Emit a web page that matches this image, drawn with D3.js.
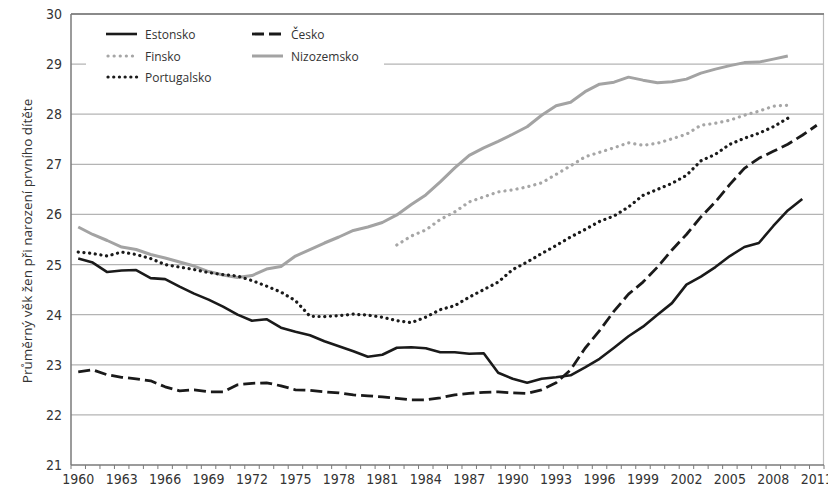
<!DOCTYPE html>
<html>
<head>
<meta charset="utf-8">
<script src="https://cdn.jsdelivr.net/npm/d3@7"></script>
<style>
  html, body { margin: 0; padding: 0; background: #fff; }
  svg { display: block; }
  .tick-x { font-family: "Liberation Sans Narrow", "DejaVu Sans Condensed", sans-serif; font-size: 14px; fill: #333; }
  .tick-y { font-family: "Liberation Sans Narrow", "DejaVu Sans Condensed", sans-serif; font-size: 14px; fill: #333; }
  .legend text { font-family: "Open Sans", "Noto Sans", sans-serif; font-size: 12px; fill: #333; }
  .ytitle { font-family: "Open Sans", "Noto Sans", sans-serif; font-size: 13.5px; fill: #333; }
</style>
</head>
<body>
<svg id="chart" width="828" height="487"></svg>
<script>
// ---- data ----
const years = [1960,1961,1962,1963,1964,1965,1966,1967,1968,1969,1970,1971,1972,1973,1974,1975,1976,1977,1978,1979,
  1980,1981,1982,1983,1984,1985,1986,1987,1988,1989,1990,1991,1992,1993,1994,1995,1996,1997,1998,1999,
  2000,2001,2002,2003,2004,2005,2006,2007,2008,2009,2010,2011];
const tickYears = [1960,1963,1966,1969,1972,1975,1978,1981,1984,1987,1990,1993,1996,1999,2002,2005,2008,2011];
const yTicks = [21,22,23,24,25,26,27,28,29,30];

const estonskoStart = 1960;
const estonsko = [25.12,25.04,24.85,24.88,24.89,24.73,24.71,24.56,24.42,24.30,24.16,24.00,23.88,23.91,23.74,23.66,23.59,23.47,23.37,23.27,
  23.16,23.20,23.34,23.35,23.33,23.25,23.25,23.22,23.23,22.84,22.72,22.64,22.72,22.75,22.79,22.95,23.12,23.34,23.57,23.76,
  24.00,24.23,24.60,24.76,24.95,25.17,25.35,25.43,25.77,26.08,26.31];

const ceskoStart = 1960;
const cesko = [22.86,22.90,22.80,22.75,22.72,22.68,22.56,22.48,22.50,22.46,22.46,22.60,22.63,22.64,22.58,22.50,22.49,22.46,22.44,22.40,
  22.38,22.36,22.33,22.30,22.30,22.34,22.40,22.43,22.45,22.46,22.44,22.43,22.50,22.64,22.90,23.33,23.68,24.07,24.41,24.65,
  24.95,25.29,25.60,25.95,26.25,26.60,26.92,27.12,27.26,27.40,27.58,27.78];

const finskoStart = 1982;
const finsko = [25.39,25.57,25.69,25.90,26.05,26.25,26.35,26.45,26.49,26.55,26.63,26.80,26.97,27.15,27.24,27.33,27.43,27.38,
  27.42,27.51,27.60,27.78,27.82,27.88,27.98,28.06,28.16,28.18];

const portugalskoStart = 1960;
const portugalsko = [25.25,25.22,25.17,25.25,25.20,25.12,25.00,24.95,24.90,24.84,24.80,24.77,24.68,24.57,24.45,24.28,23.97,23.96,23.98,24.01,
  23.99,23.95,23.88,23.84,23.95,24.10,24.18,24.35,24.50,24.65,24.90,25.05,25.22,25.38,25.55,25.70,25.86,25.97,26.15,26.38,
  26.50,26.62,26.78,27.07,27.20,27.40,27.52,27.62,27.75,27.92];

const nizozemskoStart = 1960;
const nizozemsko = [25.75,25.60,25.48,25.35,25.30,25.20,25.13,25.05,24.97,24.86,24.79,24.74,24.78,24.91,24.96,25.17,25.30,25.43,25.55,25.68,
  25.75,25.84,25.99,26.20,26.39,26.65,26.93,27.18,27.33,27.46,27.60,27.75,27.98,28.17,28.24,28.45,28.60,28.64,28.74,28.68,
  28.63,28.65,28.70,28.82,28.90,28.97,29.03,29.04,29.10,29.16];

const seriesNames = ["Estonsko", "Česko", "Finsko", "Nizozemsko", "Portugalsko"];
const yTitle = "Průměrný věk žen při narození prvního dítěte";

// ---- chart ----
const W = 828, H = 487;
const margin = {left: 71, right: 4, top: 14, bottom: 22};
const svg = d3.select("#chart");

const x = d3.scaleBand().domain(years).range([margin.left, W - margin.right]).padding(0);
const y = d3.scaleLinear().domain([21, 30]).range([H - margin.bottom, margin.top]);
const cx = yr => x(yr) + x.bandwidth() / 2;

// gridlines
svg.append("g").selectAll("line").data(yTicks.filter(v => v > 21 && v < 30)).join("line")
  .attr("x1", margin.left).attr("x2", W - margin.right)
  .attr("y1", d => y(d)).attr("y2", d => y(d))
  .attr("stroke", "#b4b4b4").attr("stroke-width", 1.2);

// right border
svg.append("line").attr("x1", W - margin.right - 0.5).attr("x2", W - margin.right - 0.5)
  .attr("y1", y(30)).attr("y2", y(21)).attr("stroke", "#bdbdbd").attr("stroke-width", 1.2);
// top border
svg.append("line").attr("x1", margin.left).attr("x2", W - margin.right)
  .attr("y1", y(30)).attr("y2", y(30)).attr("stroke", "#8a8a8a").attr("stroke-width", 2);

// legend background
const legend = svg.append("g").attr("class", "legend");
legend.append("rect").attr("x", 86).attr("y", 20).attr("width", 298).attr("height", 72).attr("fill", "#fff");

// series styles
const styles = {
  "Estonsko":   {color: "#1a1a1a", width: 2.6, dash: null, cap: "butt"},
  "Česko":      {color: "#1a1a1a", width: 2.8, dash: "12,5", cap: "butt"},
  "Finsko":     {color: "#a6a6a6", width: 3.2, dash: "0.1,6", cap: "round"},
  "Nizozemsko": {color: "#a3a3a3", width: 3.0, dash: null, cap: "butt"},
  "Portugalsko":{color: "#1a1a1a", width: 3.2, dash: "0.1,5.6", cap: "round"}
};

const series = [
  {name: "Nizozemsko", start: nizozemskoStart, values: nizozemsko},
  {name: "Finsko", start: finskoStart, values: finsko},
  {name: "Česko", start: ceskoStart, values: cesko},
  {name: "Portugalsko", start: portugalskoStart, values: portugalsko},
  {name: "Estonsko", start: estonskoStart, values: estonsko}
];

const line = d3.line().x(d => cx(d.year)).y(d => y(d.v));

series.forEach(s => {
  const pts = s.values.map((v, i) => ({year: s.start + i, v}));
  const st = styles[s.name];
  svg.append("path").datum(pts)
    .attr("d", line)
    .attr("fill", "none")
    .attr("stroke", st.color)
    .attr("stroke-width", st.width)
    .attr("stroke-linejoin", "round")
    .attr("stroke-linecap", st.cap)
    .attr("stroke-dasharray", st.dash);
});

// axes lines
svg.append("line").attr("x1", margin.left).attr("x2", margin.left)
  .attr("y1", y(30)).attr("y2", y(21)).attr("stroke", "#7a7a7a").attr("stroke-width", 1.5);
svg.append("line").attr("x1", margin.left).attr("x2", W - margin.right)
  .attr("y1", y(21)).attr("y2", y(21)).attr("stroke", "#7a7a7a").attr("stroke-width", 1.5);

// x tick marks at band boundaries
svg.append("g").selectAll("line").data(years.concat([null])).join("line")
  .attr("x1", (d, i) => margin.left + i * x.bandwidth())
  .attr("x2", (d, i) => margin.left + i * x.bandwidth())
  .attr("y1", y(21)).attr("y2", y(21) + 4)
  .attr("stroke", "#7a7a7a").attr("stroke-width", 1);

// x tick labels
svg.append("g").selectAll("text").data(tickYears).join("text")
  .attr("class", "tick-x")
  .attr("x", d => cx(d)).attr("y", y(21) + 19)
  .attr("text-anchor", "middle")
  .text(d => d);

// y tick labels
svg.append("g").selectAll("text").data(yTicks).join("text")
  .attr("class", "tick-y")
  .attr("x", margin.left - 9).attr("y", d => y(d) + 5)
  .attr("text-anchor", "end")
  .text(d => d);

// y title
svg.append("text").attr("class", "ytitle")
  .attr("transform", `translate(32,241) rotate(-90)`)
  .attr("text-anchor", "middle")
  .text(yTitle);

// legend items
const legendPos = {
  "Estonsko":   {x: 106, y: 34},
  "Finsko":     {x: 106, y: 56},
  "Portugalsko":{x: 106, y: 77},
  "Česko":      {x: 252, y: 34},
  "Nizozemsko": {x: 252, y: 56}
};
seriesNames.forEach(n => {
  const p = legendPos[n], st = styles[n];
  legend.append("line")
    .attr("x1", p.x + (st.cap === "round" ? 2 : 0)).attr("x2", p.x + 31)
    .attr("y1", p.y).attr("y2", p.y)
    .attr("stroke", st.color).attr("stroke-width", st.width)
    .attr("stroke-linecap", st.cap)
    .attr("stroke-dasharray", st.dash);
  legend.append("text").attr("x", p.x + 39).attr("y", p.y + 4.5).text(n);
});
</script>
</body>
</html>
